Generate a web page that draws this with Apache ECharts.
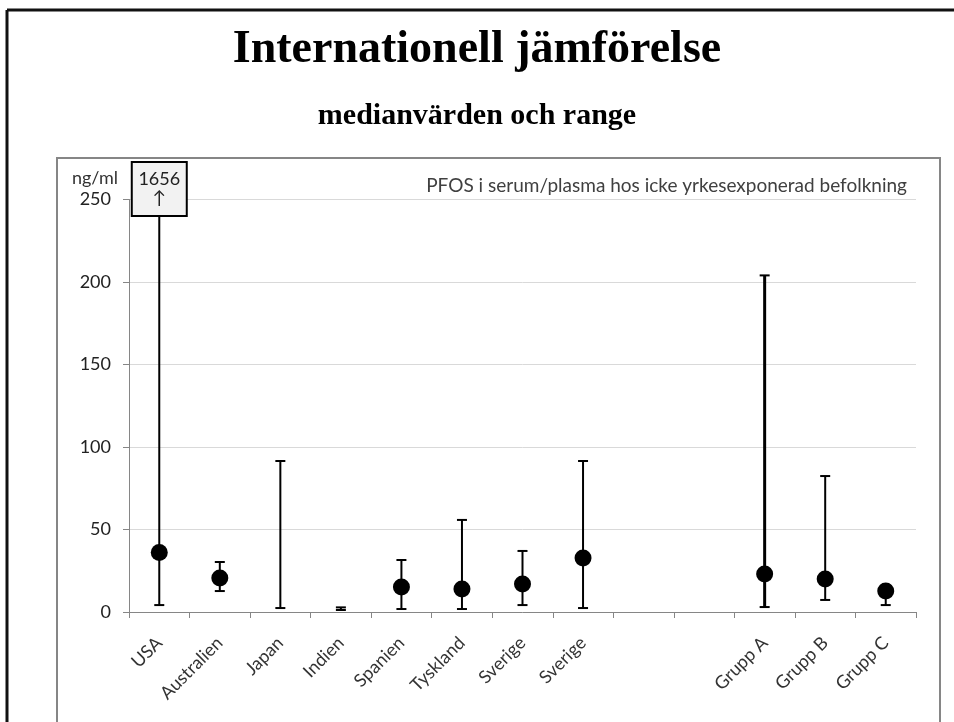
<!DOCTYPE html>
<html>
<head>
<meta charset="utf-8">
<script src="https://cdn.jsdelivr.net/npm/echarts@6/dist/echarts.min.js"></script>
<style>
html,body{margin:0;padding:0;background:#fff;}
#main{width:954px;height:722px;}
</style>
</head>
<body>
<div id="main"></div>
<script>
// ---- data ----
const categories = ['USA', 'Australien', 'Japan', 'Indien', 'Spanien', 'Tyskland', 'Sverige', 'Sverige', '', '', 'Grupp A', 'Grupp B', 'Grupp C'];
const medians = [36, 20.6, null, null, 15.2, 14, 17, 32.7, null, null, 23, 20, 12.7];
const minValues = [4.2, 12.7, 2.4, 1.2, 1.8, 1.8, 4.2, 2.4, null, null, 3, 7.3, 4.2];
const maxValues = [1656, 30.3, 91.5, 2.8, 31.5, 55.8, 37, 91.5, null, null, 204, 82.4, 16];
const yTicks = { min: 0, max: 250, interval: 50 };

// ---- styles ----
const heavyCategory = 'Grupp A';
const sans = 'Lato, "DejaVu Sans", sans-serif';

const rangeData = [];
const medianData = [];
categories.forEach((c, i) => {
  if (minValues[i] != null && maxValues[i] != null) rangeData.push([i, minValues[i], maxValues[i]]);
  if (medians[i] != null) medianData.push([i, medians[i]]);
});

const chart = echarts.init(document.getElementById('main'));
chart.setOption({
  backgroundColor: '#fff',
  animation: false,
  title: [
    { text: 'Internationell jämförelse', left: 'center', top: 22,
      textStyle: { fontFamily: '"Liberation Serif", "Times New Roman", serif', fontWeight: 'bold', fontSize: 46, color: '#000' } },
    { text: 'medianvärden och range', left: 'center', top: 96,
      textStyle: { fontFamily: '"Liberation Serif", "Times New Roman", serif', fontWeight: 'bold', fontSize: 30, color: '#000' } },
    { text: 'PFOS i serum/plasma hos icke yrkesexponerad befolkning', right: 42, top: 171,
      textStyle: { fontFamily: sans, fontWeight: 'normal', fontSize: 19, color: '#404040' } }
  ],
  graphic: [
    { type: 'line', shape: { x1: 7, y1: 10, x2: 954, y2: 10 }, style: { stroke: '#111', lineWidth: 3 } },
    { type: 'line', shape: { x1: 7, y1: 10, x2: 7, y2: 722 }, style: { stroke: '#111', lineWidth: 3 } },
    { type: 'rect', shape: { x: 57, y: 158, width: 883, height: 580 }, style: { fill: 'none', stroke: '#868686', lineWidth: 2 } }
  ],
  grid: { left: 129, right: 38, top: 199.5, bottom: 110, containLabel: false, outerBoundsMode: 'none' },
  xAxis: {
    type: 'category',
    data: categories,
    boundaryGap: true,
    axisLine: { lineStyle: { color: '#868686', width: 1 } },
    axisTick: { show: true, length: 6, interval: 0, lineStyle: { color: '#868686' } },
    axisLabel: { rotate: 45, interval: 0, margin: 28, fontFamily: sans, fontSize: 18, color: '#333' },
    splitLine: { show: false }
  },
  yAxis: {
    type: 'value',
    min: yTicks.min, max: yTicks.max, interval: yTicks.interval,
    name: 'ng/ml',
    nameLocation: 'end',
    nameGap: 12,
    nameTextStyle: { fontFamily: sans, fontSize: 18, color: '#333', align: 'right', padding: [0, 11, 0, 0] },
    axisLine: { show: true, lineStyle: { color: '#868686', width: 1 } },
    axisTick: { show: true, length: 6, lineStyle: { color: '#868686' } },
    axisLabel: { margin: 18, fontFamily: sans, fontSize: 18, color: '#222' },
    splitLine: { lineStyle: { color: '#d9d9d9', width: 1 } }
  },
  series: [
    {
      type: 'custom',
      clip: false,
      z: 2,
      data: rangeData,
      renderItem(params, api) {
        const i = api.value(0), lo = api.value(1), hi = api.value(2);
        const top = Math.min(hi, yTicks.max);
        const pLo = api.coord([i, lo]);
        const pHi = api.coord([i, top]);
        const x = pLo[0];
        const w = categories[i] === heavyCategory ? 3 : 2;
        const cap = 5;
        const children = [
          { type: 'line', shape: { x1: x, y1: pLo[1], x2: x, y2: pHi[1] }, style: { stroke: '#000', lineWidth: w } },
          { type: 'line', shape: { x1: x - cap, y1: pLo[1], x2: x + cap, y2: pLo[1] }, style: { stroke: '#000', lineWidth: 2 } }
        ];
        if (hi <= yTicks.max) {
          children.push({ type: 'line', shape: { x1: x - cap, y1: pHi[1], x2: x + cap, y2: pHi[1] }, style: { stroke: '#000', lineWidth: 2 } });
        } else {
          children.push({ type: 'rect', shape: { x: x - 27.5, y: pHi[1] - 37.5, width: 55, height: 54 },
            style: { fill: '#f2f2f2', stroke: '#000', lineWidth: 2 } });
          children.push({ type: 'text', x: x, y: pHi[1] - 10.5,
            style: { text: String(hi) + '\n↑', textAlign: 'center', textVerticalAlign: 'middle', fill: '#222',
              font: '18px ' + sans, lineHeight: 19 } });
        }
        return { type: 'group', children };
      }
    },
    {
      type: 'scatter',
      z: 3,
      symbol: 'circle',
      symbolSize: 17,
      itemStyle: { color: '#000', opacity: 1 },
      data: medianData
    }
  ]
});
</script>
</body>
</html>
